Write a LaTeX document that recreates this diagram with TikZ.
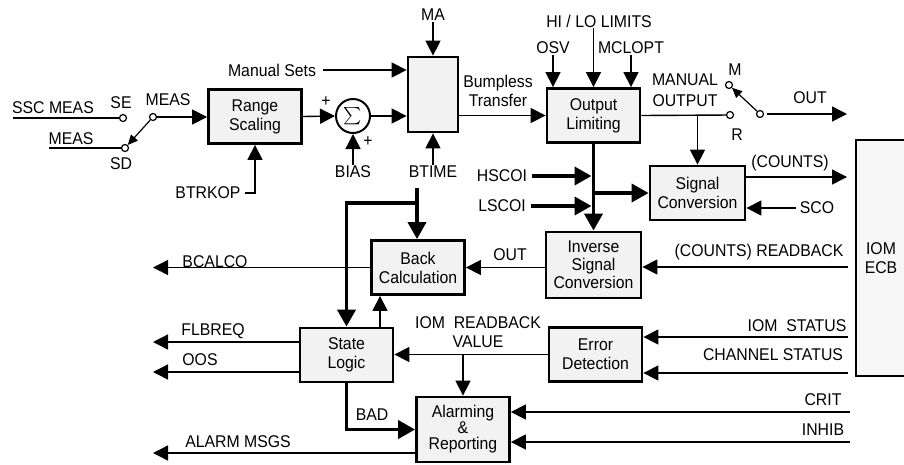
\documentclass[tikz,border=0pt]{standalone}
\usepackage{amsmath}
\usepackage{fontspec}
\setmainfont[FakeStretch=0.93]{Liberation Sans}
\usetikzlibrary{arrows.meta}

\tikzset{
  blk/.style={draw, line width=2.8pt, fill=gray!10, minimum width=93pt, minimum height=54pt, align=center, inner sep=1pt},
  lbl/.style={inner sep=1pt, align=center},
  wire/.style={line width=1.4pt},
  sig/.style={line width=1.4pt, -{Triangle[length=15pt,width=15pt]}},
  bus/.style={line width=3.8pt, -{Triangle[length=17pt,width=18pt]}},
  term/.style={circle, draw, line width=1.2pt, fill=white, minimum size=7pt, inner sep=0pt},
  arm/.style={line width=1.2pt, -{Triangle[length=10pt,width=9pt]}},
}

\begin{document}
\begin{tikzpicture}[x=1pt, y=-1pt, font=\fontsize{17}{19}\selectfont]
    \useasboundingbox (0,0) rectangle (904,464);
    % Blocks
    \node[blk] (scale) at (255,116.5) {Range\\Scaling};
    \node[blk, minimum width=50pt, minimum height=75pt] (ma) at (433,94.5) {};
    \node[blk] (outlim) at (593.5,115.5) {Output\\Limiting};
    \node[blk, minimum width=95pt] (sigconv) at (697.5,193) {Signal\\Conversion};
    \node[blk, minimum width=95pt, minimum height=66pt, font=\fontsize{17}{18}\selectfont] (invconv) at (593.5,265) {Inverse\\Signal\\Conversion};
    \node[blk] (backcalc) at (418,267.5) {Back\\Calculation};
    \node[blk] (state) at (346.5,355) {State\\Logic};
    \node[blk] (errdet) at (595.5,354.5) {Error\\Detection};
    \node[blk, minimum height=65pt, font=\fontsize{17}{16}\selectfont] (alarm) at (463,429.5) {Alarming\\\&\\Reporting};
    \node[draw, line width=2pt, fill=gray!6, minimum width=50pt, minimum height=236pt, align=center] (iom) at (881,258) {IOM\\ECB};
    \node[circle, draw, line width=2pt, fill=white, minimum size=34pt, inner sep=0pt] (sum) at (353,116) {$\sum$};
    % Switch contacts
    \node[term] (se) at (123,118) {}; \node[term] (sd) at (125,148) {}; \node[term] (piv1) at (153,117) {};
    \node[term] (mterm) at (729,85) {}; \node[term] (rterm) at (730,115) {}; \node[term] (piv2) at (760,114) {};
    % Labels left
    \node[lbl] (sscmeas) at (53,108) {SSC MEAS};
    \node[lbl] (meas2) at (71,139) {MEAS};
    \node[lbl] (selbl) at (121,103) {SE};
    \node[lbl] (sdlbl) at (121,164) {SD};
    \node[lbl] (meas1) at (168,100) {MEAS};
    \node[lbl] (btrkop) at (208,193) {BTRKOP};
    \node[lbl] (msets) at (272,70) {Manual Sets};
    \node[lbl] (malbl) at (433,15) {MA};
    \node[lbl] (plus1) at (326,102) {+}; \node[lbl] (plus2) at (368,142) {+};
    \node[lbl] (bias) at (353,172) {BIAS};
    \node[lbl] (btime) at (433,172) {BTIME};
    % Labels top right
    \node[lbl] (bumpless) at (498,91) {Bumpless\\Transfer};
    \node[lbl] (hilo) at (599,21) {HI / LO LIMITS};
    \node[lbl] (osv) at (553,48) {OSV};
    \node[lbl] (mclopt) at (631,48) {MCLOPT};
    \node[lbl, font=\fontsize{17}{21}\selectfont] (manout) at (685,90) {MANUAL\\OUTPUT};
    \node[lbl] (mlbl) at (735,70) {M}; \node[lbl] (rlbl) at (737,135) {R};
    \node[lbl] (outlbl) at (810,98) {OUT};
    \node[lbl] (counts) at (790,163) {(COUNTS)};
    \node[lbl] (sco) at (817,208) {SCO};
    \node[lbl] (hscoi) at (502,176) {HSCOI};
    \node[lbl] (lscoi) at (502,206) {LSCOI};
    % Labels bottom
    \node[lbl] (rback) at (759,252) {(COUNTS) READBACK};
    \node[lbl] (outlbl2) at (510,255) {OUT};
    \node[lbl] (iomst) at (797,326) {IOM\ \ STATUS};
    \node[lbl] (chst) at (773,355) {CHANNEL STATUS};
    \node[lbl] (rbval) at (478,332) {IOM\ \ READBACK\\VALUE};
    \node[lbl] (crit) at (823,400) {CRIT};
    \node[lbl] (inhib) at (823,430) {INHIB};
    \node[lbl] (bcalco) at (215,262) {BCALCO};
    \node[lbl] (flbreq) at (213,331) {FLBREQ};
    \node[lbl] (oos) at (200,360) {OOS};
    \node[lbl] (bad) at (372,415) {BAD};
    \node[lbl] (almsg) at (238,442) {ALARM MSGS};
    % Free ends
    \coordinate (sscin) at (13,118); \coordinate (measin) at (49,148);
    \coordinate (bt) at (417,188); \coordinate (btk) at (417,203);
    \coordinate (outend) at (847,114); \coordinate (cntend) at (847,177);
    \coordinate (rbin) at (848,267); \coordinate (iomin) at (848,337); \coordinate (chin) at (848,373);
    \coordinate (critin) at (850,412); \coordinate (inhin) at (850,442);
    \coordinate (bcout) at (153,270); \coordinate (flout) at (153,342);
    \coordinate (oosout) at (153,372); \coordinate (almout) at (153,453);
    % Input side
    \draw[wire] (sscin) -- (se);
    \draw[wire] (measin) -- (sd);
    \draw[arm] (piv1) -- (sd);
    \draw[sig] (piv1) -- (piv1 -| scale.west);
    \draw[sig, shorten <=3pt] (btrkop.east) -| (scale.south);
    \draw[sig] (scale.east) -- (sum.west);
    \draw[sig] (bias.north) -- (sum.south);
    \draw[sig] (sum.east) -- (sum.east -| ma.west);
    \draw[sig, shorten <=6pt] (msets.east) -- (msets.east -| ma.west);
    \draw[sig] (malbl.south) -- (ma.north);
    \draw[sig] (btime.north) -- (ma.south);
    % Output side
    \draw[sig] (ma.east |- outlim.west) -- (outlim.west);
    \draw[sig] (osv.south) -- (osv.south |- outlim.north);
    \draw[sig] (hilo.south -| outlim.north) -- (outlim.north);
    \draw[sig] (mclopt.south) -- (mclopt.south |- outlim.north);
    \draw[wire] (outlim.east) -- (rterm);
    \draw[sig] (sigconv.north |- outlim.east) -- (sigconv.north);
    \draw[arm] (piv2) -- (mterm);
    \draw[sig, shorten <=3pt] (piv2) -- (outend);
    \draw[sig] (sigconv.east |- cntend) -- (cntend);
    \draw[sig, shorten <=3pt] (sco.west) -- (sco.west -| sigconv.east);
    \draw[bus] (outlim.south) -- (invconv.north);
    \draw[bus] (outlim.south |- sigconv.west) -- (sigconv.west);
    \draw[bus, shorten <=4pt, shorten >=2pt] (hscoi.east) -- (hscoi.east -| outlim.south);
    \draw[bus, shorten <=4pt, shorten >=2pt] (lscoi.east) -- (lscoi.east -| outlim.south);
    % Readback side
    \draw[sig] (rbin) -- (rbin -| invconv.east);
    \draw[sig] (invconv.west |- backcalc.east) -- (backcalc.east);
    \draw[bus] (bt) -- (bt |- backcalc.north);
    \draw[bus] (btk) -| (state.north);
    \draw[sig] (backcalc.west) -- (backcalc.west -| bcout);
    \draw[sig] (flout -| state.west) -- (flout);
    \draw[sig] (oosout -| state.west) -- (oosout);
    \draw[sig] ([xshift=33.5pt]state.north) -- ([xshift=33.5pt]state.north |- backcalc.south);
    \draw[sig] (errdet.west) -- (errdet.west -| state.east);
    \draw[sig] (alarm.north |- errdet.west) -- (alarm.north);
    \draw[sig] (iomin) -- (iomin -| errdet.east);
    \draw[sig] (chin) -- (chin -| errdet.east);
    \draw[bus] (state.south) |- (alarm.west);
    \draw[sig] (almout -| alarm.west) -- (almout);
    \draw[sig] (critin) -- (critin -| alarm.east);
    \draw[sig] (inhin) -- (inhin -| alarm.east);
\end{tikzpicture}
\end{document}
